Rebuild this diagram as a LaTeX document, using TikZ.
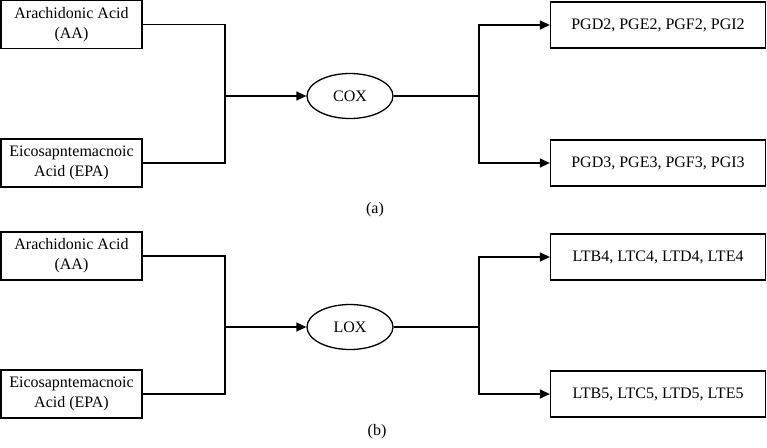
\documentclass[tikz,border=0pt]{standalone}
\usepackage{fontspec}
\setmainfont{Liberation Serif}
\usetikzlibrary{arrows.meta,shapes.geometric}
\begin{document}
\begin{tikzpicture}[x=1pt,y=-1pt,
  every node/.style={font=\fontsize{16}{20}\selectfont},
  lbox/.style={draw,line width=1.3pt,minimum width=141pt,minimum height=48pt,align=center,inner sep=0pt},
  rbox/.style={draw,line width=1.3pt,minimum width=215pt,minimum height=46pt,align=center,inner sep=0pt},
  enz/.style={draw,ellipse,line width=1.3pt,minimum width=86pt,minimum height=45pt,inner sep=0pt},
  conn/.style={line width=1.3pt},
  arr/.style={line width=1.3pt,-{Triangle[length=10pt,width=9pt]}}]
\useasboundingbox (0,0) rectangle (767,447);
% ---- panel (a)
\node[lbox] (aa1) at (71.5,24.5) {Arachidonic Acid\\(AA)};
\node[lbox] (epa1) at (71.5,163) {Eicosapntemacnoic\\Acid (EPA)};
\node[enz] (cox) at (350,96) {COX};
\node[rbox] (pg2) at (658,25) {PGD2, PGE2, PGF2, PGI2};
\node[rbox] (pg3) at (658,163) {PGD3, PGE3, PGF3, PGI3};
\coordinate (jl1) at (225,96);
\coordinate (jr1) at (479,96);
\draw[conn] (aa1.east) -| (jl1) |- (epa1.east);
\draw[arr] (jl1) -- (cox.west);
\draw[conn] (cox.east) -- (jr1);
\draw[arr] (jr1) |- (pg2.west);
\draw[arr] (jr1) |- (pg3.west);
\node (la) at (375,210) {(a)};
% ---- panel (b)
\node[lbox] (aa2) at (71.5,256) {Arachidonic Acid\\(AA)};
\node[lbox] (epa2) at (71.5,394) {Eicosapntemacnoic\\Acid (EPA)};
\node[enz] (lox) at (350,327) {LOX};
\node[rbox] (lt4) at (658,257) {LTB4, LTC4, LTD4, LTE4};
\node[rbox] (lt5) at (658,394) {LTB5, LTC5, LTD5, LTE5};
\coordinate (jl2) at (225,327);
\coordinate (jr2) at (479,327);
\draw[conn] (aa2.east) -| (jl2) |- (epa2.east);
\draw[arr] (jl2) -- (lox.west);
\draw[conn] (lox.east) -- (jr2);
\draw[arr] (jr2) |- (lt4.west);
\draw[arr] (jr2) |- (lt5.west);
\node (lb) at (377,432) {(b)};
\end{tikzpicture}
\end{document}
